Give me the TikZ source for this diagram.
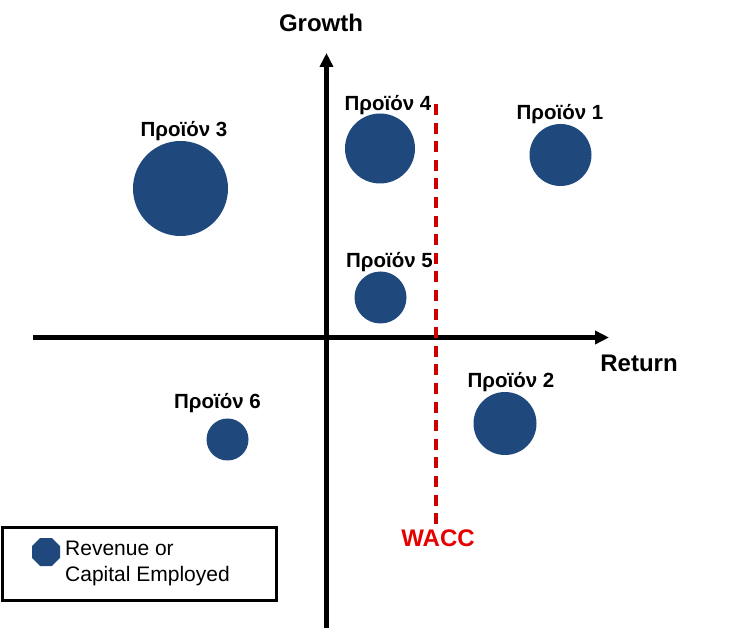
\documentclass[tikz,border=0pt]{standalone}
\usepackage{fontspec}
\setmainfont{Liberation Sans}
\usetikzlibrary{arrows.meta}
\definecolor{bubblue}{HTML}{1F497D}
\definecolor{waccdash}{HTML}{CC0000}
\definecolor{wacctext}{HTML}{E60000}
\begin{document}
\begin{tikzpicture}[x=1pt,y=-1pt,
  bubble/.style={circle,fill=bubblue,inner sep=0pt},
  plabel/.style={anchor=base,inner sep=0pt,font=\fontsize{20.5}{24}\selectfont\bfseries},
  axlabel/.style={anchor=base,inner sep=0pt,font=\fontsize{24}{28}\selectfont\bfseries},
  axisline/.style={line width=4.5pt,-{Triangle[length=14pt,width=13pt]}},
  waccline/.style={line width=4pt,waccdash,dash pattern=on 11pt off 7.6pt},
  legtext/.style={anchor=base west,inner sep=0pt,font=\fontsize{21}{24}\selectfont}]
\useasboundingbox (0,0) rectangle (729,628);
% axes
\coordinate (xs) at (33,337.5);
\coordinate (xe) at (609,337.5);
\coordinate (ys) at (326.5,628);
\coordinate (ye) at (326.5,53);
\draw[axisline] (xs) -- (xe);
\draw[axisline] (ys) -- (ye);
\node[axlabel] (growth) at (321,32) {Growth};
\node[axlabel] (return) at (639,372) {Return};
% WACC
\coordinate (wt) at (436,104);
\coordinate (wb) at (436,525);
\draw[waccline] (wt) -- (wb);
\node[axlabel,text=wacctext] (wacc) at (438,547) {WACC};
% bubbles
\node[bubble,minimum size=95pt] (p3) at (180.5,188.5) {};
\node[bubble,minimum size=70pt] (p4) at (380,148.5) {};
\node[bubble,minimum size=62pt] (p1) at (560.5,155) {};
\node[bubble,minimum size=52pt] (p5) at (380.5,297.5) {};
\node[bubble,minimum size=63pt] (p2) at (505,423.5) {};
\node[bubble,minimum size=42pt] (p6) at (227.5,439.5) {};
% labels
\node[plabel] (l3) at (184,137) {Προϊόν 3};
\node[plabel] (l4) at (388,111) {Προϊόν 4};
\node[plabel] (l1) at (560,120) {Προϊόν 1};
\node[plabel] (l5) at (389.5,268) {Προϊόν 5};
\node[plabel] (l2) at (511,388) {Προϊόν 2};
\node[plabel] (l6) at (217.5,409) {Προϊόν 6};
% legend
\node[draw,line width=3pt,minimum width=274pt,minimum height=73pt,inner sep=0pt] (legend) at (139,563.5) {};
\fill[bubblue] (40.2,538) -- (51.8,538) -- (60,546.2) -- (60,557.8) -- (51.8,566) -- (40.2,566) -- (32,557.8) -- (32,546.2) -- cycle;
\node[legtext] (lt1) at (65,555) {Revenue or};
\node[legtext] (lt2) at (65,581) {Capital Employed};
\end{tikzpicture}
\end{document}
